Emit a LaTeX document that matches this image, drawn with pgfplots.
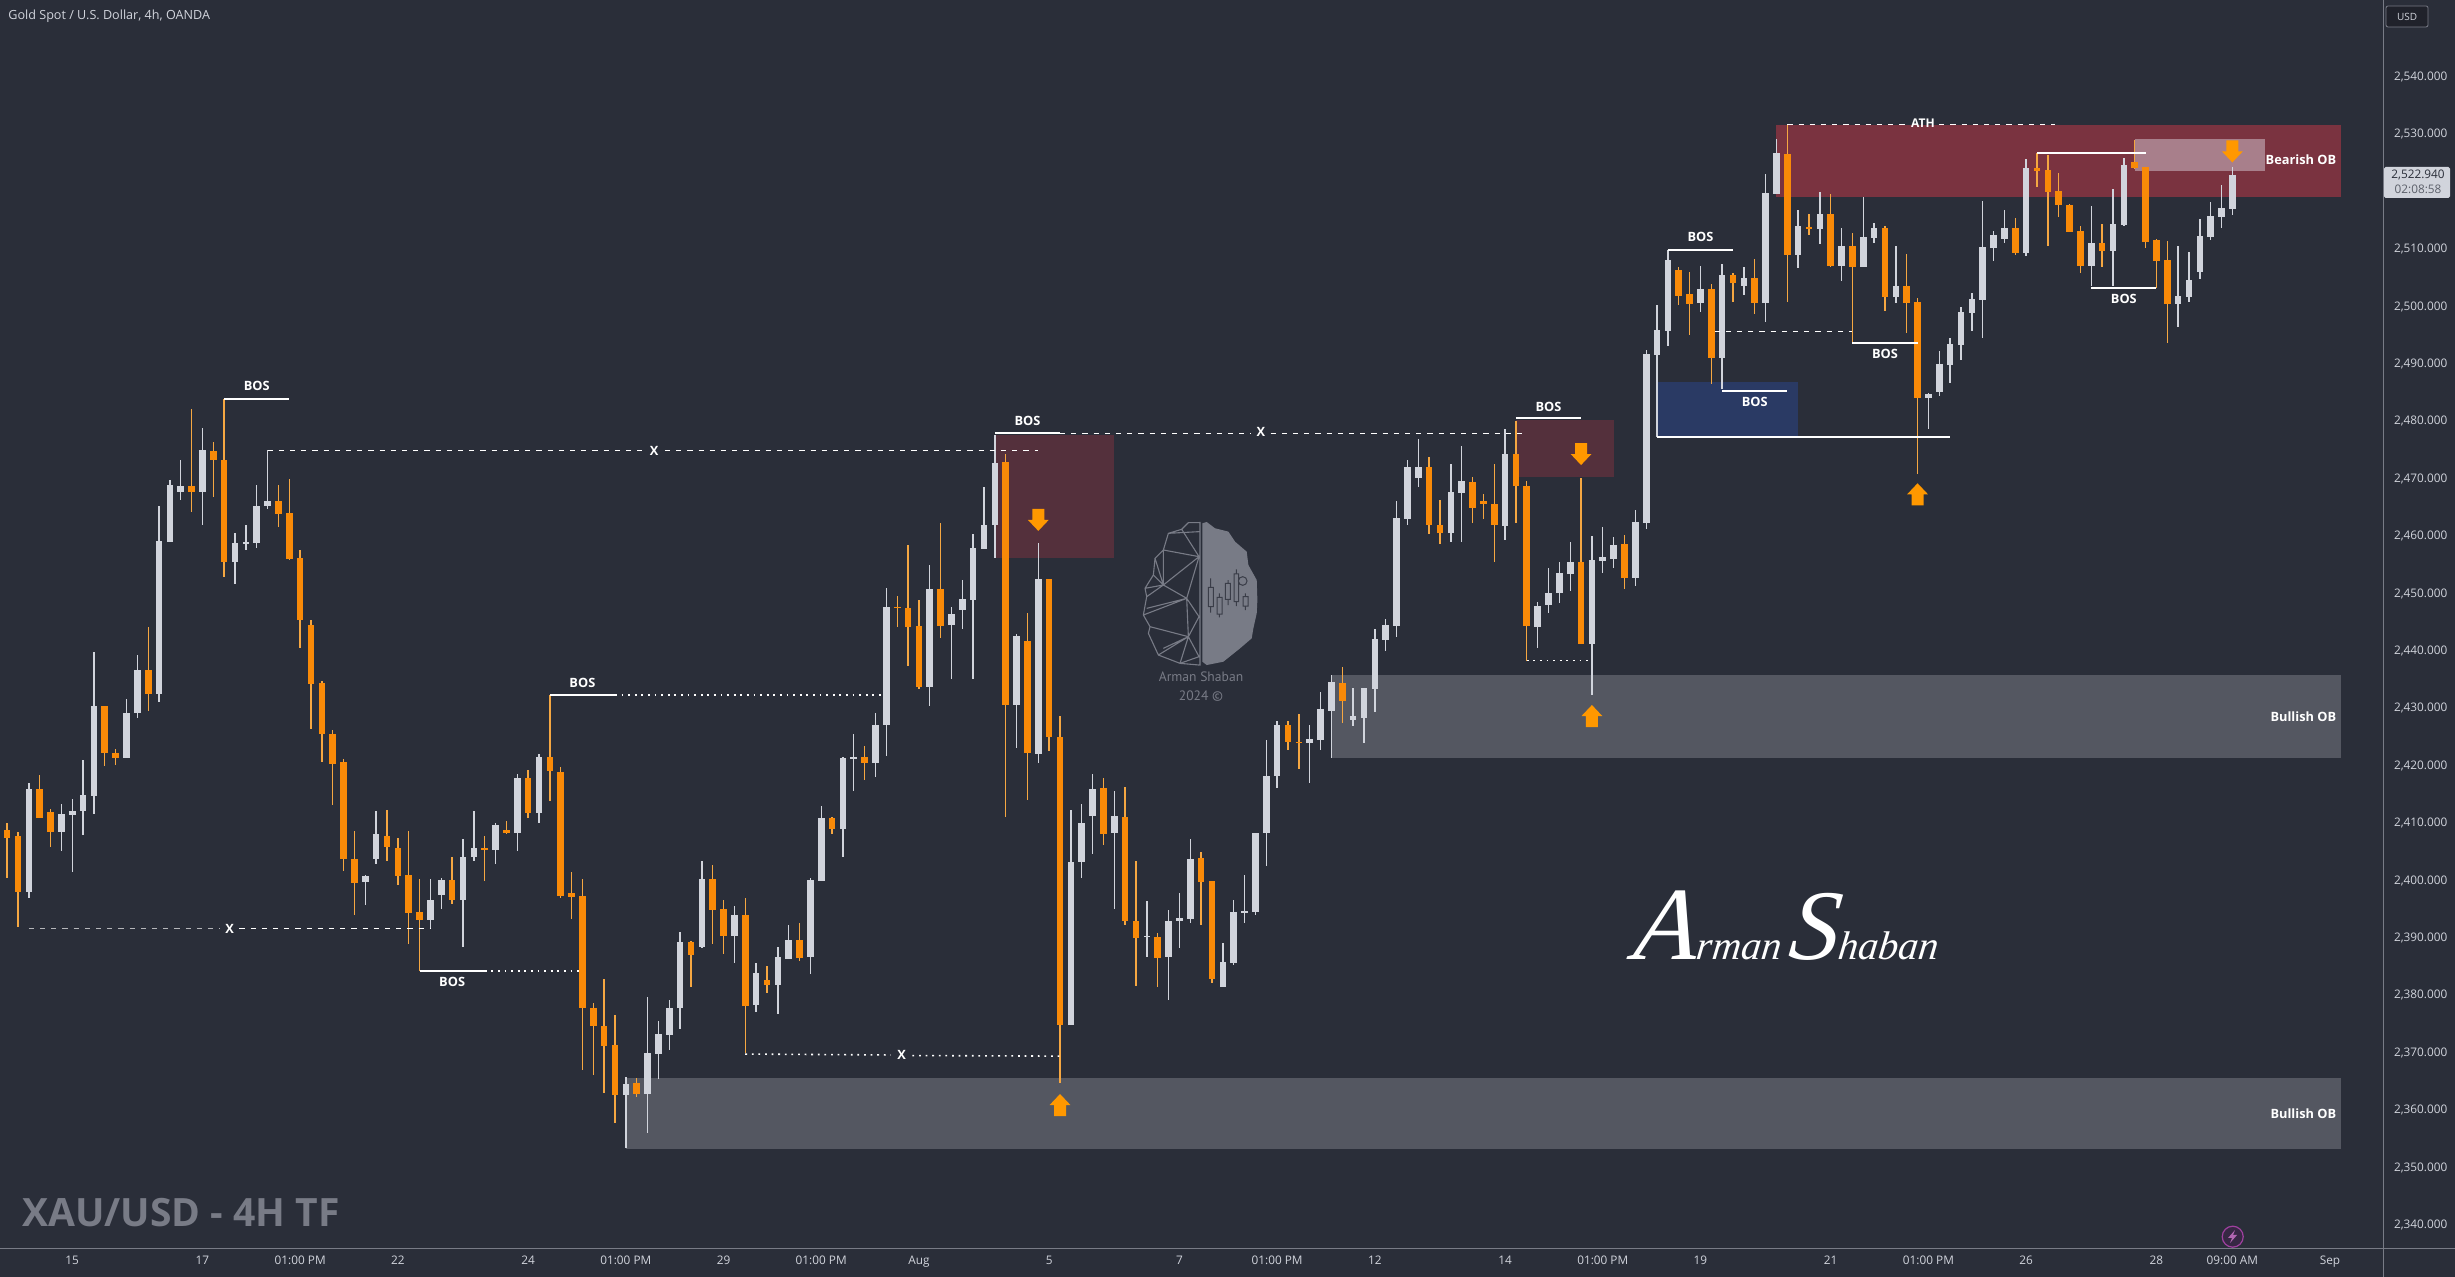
\documentclass[border=0pt]{standalone}
\usepackage{fontspec}
\usepackage{pgfplots}
\usepackage{pgfplotstable}
\pgfplotsset{compat=1.18}
\setmainfont{Open Sans}
\newfontfamily\sigfont{Liberation Serif}
\newfontfamily\logofont{PT Sans}

\definecolor{bg}{HTML}{2A2E39}
\definecolor{axc}{HTML}{787B86}
\definecolor{txt}{HTML}{D1D4DC}
\definecolor{upc}{HTML}{D1D4DC}
\definecolor{dnc}{HTML}{F98A08}
\definecolor{dnw}{HTML}{F5A742}
\definecolor{arr}{HTML}{FF9800}
\definecolor{zgray}{HTML}{545761}
\definecolor{zred}{HTML}{7A3340}
\definecolor{zdark}{HTML}{54303C}
\definecolor{zpink}{HTML}{A87F8B}
\definecolor{zblue}{HTML}{2A3A64}

% x o h l c, white candles
\pgfplotstableread{
x o h l c
2 2398.04 2416.98 2397.01 2415.95
5 2408.51 2413.40 2405.14 2411.61
6 2411.47 2414.16 2401.49 2412.09
7 2412.16 2420.98 2407.89 2414.92
8 2414.78 2439.72 2411.61 2430.42
11 2421.26 2431.59 2421.26 2429.25
12 2429.25 2439.37 2428.35 2436.62
14 2432.55 2465.21 2431.18 2459.08
15 2458.94 2469.69 2458.94 2468.86
16 2467.76 2473.27 2466.31 2468.65
18 2467.76 2478.85 2461.97 2474.99
21 2455.56 2460.52 2451.71 2458.73
22 2458.75 2461.90 2457.49 2458.95
23 2458.87 2468.86 2457.84 2465.21
24 2465.21 2474.92 2464.73 2466.04
33 2399.76 2400.87 2395.70 2400.87
34 2403.76 2412.09 2402.79 2408.03
39 2393.15 2400.25 2391.77 2396.59
40 2397.56 2400.45 2395.08 2400.04
42 2396.66 2407.20 2388.46 2404.17
43 2404.17 2412.09 2403.48 2405.69
45 2405.34 2410.10 2402.93 2409.61
47 2408.31 2418.50 2405.21 2417.95
49 2411.82 2422.01 2410.10 2421.46
57 2362.67 2365.79 2353.38 2364.51
59 2362.80 2379.66 2356.01 2369.88
60 2369.82 2375.51 2365.48 2373.24
61 2373.12 2379.17 2370.49 2377.77
62 2377.71 2390.97 2374.16 2389.32
64 2388.40 2403.37 2388.16 2400.19
67 2390.42 2395.55 2385.65 2394.02
69 2378.32 2385.59 2377.16 2383.88
71 2381.80 2388.34 2376.73 2386.69
72 2386.32 2392.25 2386.32 2389.62
74 2386.69 2400.44 2383.76 2400.07
75 2399.89 2412.91 2399.89 2410.89
77 2408.99 2421.52 2404.11 2421.34
78 2421.16 2425.49 2415.59 2421.52
80 2420.54 2429.10 2418.04 2427.08
81 2427.08 2450.96 2421.70 2447.65
85 2433.77 2454.97 2430.40 2450.79
87 2444.51 2447.59 2435.16 2446.43
88 2447.13 2452.35 2443.82 2449.04
89 2448.87 2460.37 2435.11 2457.93
90 2457.81 2468.54 2457.81 2462.01
91 2462.01 2477.64 2456.10 2472.82
93 2430.52 2442.96 2423.05 2442.57
95 2422.12 2458.75 2420.41 2452.60
98 2374.76 2412.32 2374.76 2403.14
99 2403.14 2413.33 2400.50 2409.98
100 2411.23 2418.54 2404.62 2415.97
102 2408.20 2415.51 2395.05 2411.23
105 2390.15 2396.37 2386.73 2390.39
107 2386.73 2394.82 2379.26 2392.87
108 2392.87 2397.85 2388.21 2393.42
109 2393.26 2407.26 2392.64 2403.84
112 2381.44 2389.14 2381.36 2385.72
113 2385.64 2396.61 2385.33 2394.43
114 2394.43 2400.96 2392.64 2394.66
115 2394.51 2408.20 2394.04 2408.20
116 2408.20 2424.45 2402.60 2418.23
117 2418.23 2427.87 2416.05 2427.17
120 2423.98 2427.17 2416.98 2424.68
121 2424.45 2432.77 2422.82 2429.82
122 2429.50 2435.88 2421.26 2434.56
124 2427.95 2433.55 2426.94 2428.65
125 2428.34 2433.55 2423.98 2433.55
126 2433.39 2443.89 2429.27 2442.10
127 2441.87 2445.53 2439.93 2444.51
128 2444.36 2466.13 2442.34 2463.10
129 2462.95 2473.21 2461.86 2471.97
130 2470.10 2476.94 2468.54 2472.12
133 2460.61 2472.59 2458.98 2467.61
134 2467.53 2475.70 2458.98 2469.56
138 2461.78 2478.58 2459.29 2474.38
141 2444.17 2448.51 2440.57 2447.91
142 2447.97 2454.44 2446.64 2450.17
143 2450.17 2455.51 2448.37 2453.57
144 2453.37 2458.91 2450.51 2455.51
146 2441.17 2460.04 2432.37 2455.77
147 2455.64 2461.51 2453.57 2456.44
148 2456.04 2459.84 2454.51 2458.37
150 2452.77 2464.51 2451.31 2462.38
151 2462.31 2492.43 2461.31 2491.73
152 2491.56 2500.27 2477.33 2495.91
153 2495.74 2509.85 2493.12 2508.11
156 2500.67 2507.06 2499.05 2503.00
158 2491.09 2507.41 2485.69 2505.49
160 2503.63 2506.89 2502.01 2504.97
162 2500.67 2523.09 2497.36 2519.72
163 2519.60 2529.19 2519.60 2526.75
165 2509.04 2516.82 2506.77 2514.03
167 2513.51 2519.89 2510.95 2516.06
169 2507.06 2513.68 2504.45 2510.55
171 2506.94 2519.02 2506.94 2512.11
172 2511.94 2514.55 2511.07 2513.62
174 2501.66 2510.55 2500.67 2503.58
177 2484.12 2484.88 2478.72 2484.76
178 2485.11 2492.25 2484.47 2489.93
179 2489.81 2494.52 2486.74 2493.41
180 2493.30 2499.92 2490.69 2498.99
181 2498.93 2502.36 2495.80 2501.25
182 2501.14 2518.38 2494.58 2510.37
183 2510.20 2513.16 2507.99 2512.46
184 2511.76 2516.82 2511.07 2513.68
186 2509.38 2525.64 2508.86 2524.08
192 2507.12 2517.51 2503.58 2511.01
194 2509.73 2520.48 2503.58 2514.32
195 2514.20 2525.82 2514.09 2524.66
200 2500.50 2510.55 2496.49 2501.78
201 2501.72 2509.44 2500.73 2504.56
202 2506.02 2515.19 2504.85 2512.29
203 2512.17 2518.21 2511.65 2515.71
204 2515.66 2521.17 2513.74 2517.11
205 2516.99 2524.37 2515.95 2522.94
}\upcandles

% x o h l c, orange candles
\pgfplotstableread{
x o h l c
0 2408.72 2410.10 2400.45 2407.48
1 2407.82 2408.37 2391.84 2398.04
3 2415.95 2418.36 2410.92 2410.92
4 2411.96 2412.37 2405.89 2408.51
9 2430.42 2430.42 2420.02 2422.29
10 2422.22 2422.84 2420.09 2421.26
13 2436.62 2444.13 2429.59 2432.55
17 2468.65 2482.22 2464.11 2467.76
19 2474.92 2476.37 2466.79 2473.34
20 2473.34 2483.81 2452.95 2455.56
25 2466.04 2468.86 2461.63 2463.90
26 2463.97 2469.89 2455.91 2456.05
27 2456.11 2457.49 2440.55 2445.30
28 2444.47 2445.30 2426.42 2434.28
29 2434.35 2434.69 2420.71 2425.46
30 2425.46 2426.15 2413.20 2420.36
31 2420.57 2421.12 2401.69 2403.83
32 2403.83 2408.65 2394.05 2399.62
35 2407.82 2412.30 2403.48 2405.76
36 2405.76 2407.34 2399.28 2400.87
37 2400.87 2408.65 2389.02 2394.39
38 2394.46 2400.25 2384.24 2393.15
41 2400.04 2404.03 2395.97 2396.66
44 2405.62 2407.69 2399.83 2405.48
46 2408.72 2410.37 2408.10 2408.31
48 2417.95 2419.19 2410.92 2411.82
50 2421.46 2432.28 2413.89 2419.12
51 2418.98 2419.74 2397.01 2397.28
52 2397.90 2401.49 2393.36 2397.21
53 2397.26 2400.19 2367.07 2377.71
54 2377.71 2378.74 2366.09 2374.71
55 2374.59 2382.84 2362.98 2371.23
56 2371.29 2376.54 2357.78 2362.67
58 2364.69 2365.61 2362.24 2362.86
63 2389.38 2389.38 2381.43 2387.06
65 2400.19 2402.64 2388.95 2394.94
66 2395.00 2396.59 2387.24 2390.42
68 2393.96 2396.96 2369.88 2378.19
70 2382.59 2385.04 2380.46 2381.80
73 2389.62 2392.62 2385.96 2386.57
76 2410.89 2411.13 2408.08 2408.99
79 2421.46 2423.35 2417.49 2420.54
82 2447.70 2449.57 2444.17 2447.50
83 2447.42 2458.45 2437.37 2444.17
84 2444.28 2448.87 2433.42 2433.77
86 2450.79 2462.34 2442.31 2444.34
92 2472.98 2474.38 2411.00 2430.52
94 2441.79 2446.54 2413.95 2422.27
96 2452.60 2452.60 2422.51 2425.07
97 2425.07 2428.73 2364.72 2374.76
101 2416.05 2417.84 2406.10 2408.04
103 2411.15 2416.36 2392.17 2393.03
104 2393.03 2403.37 2381.68 2390.08
106 2390.23 2390.78 2381.36 2386.58
110 2404.00 2404.93 2392.17 2399.80
111 2399.87 2399.87 2382.14 2382.92
118 2427.17 2427.72 2422.82 2424.06
119 2424.14 2429.04 2419.47 2423.98
123 2434.48 2437.20 2427.48 2431.22
131 2472.12 2473.76 2460.30 2462.01
132 2462.01 2466.29 2458.59 2460.61
135 2469.48 2470.33 2462.32 2464.97
136 2466.21 2467.30 2462.95 2465.67
137 2465.51 2472.59 2455.40 2461.86
139 2474.38 2479.98 2462.32 2468.78
140 2468.78 2469.56 2438.29 2444.28
145 2455.44 2470.04 2441.17 2441.17
149 2458.58 2460.18 2450.84 2452.77
154 2506.36 2506.83 2500.33 2501.89
155 2502.13 2506.02 2495.04 2500.50
157 2503.00 2503.93 2486.56 2491.09
159 2505.49 2505.78 2500.79 2504.16
161 2504.91 2508.28 2498.76 2500.67
164 2526.51 2531.74 2500.85 2509.04
166 2513.80 2516.12 2512.52 2513.45
168 2516.06 2519.60 2506.94 2507.12
170 2510.55 2512.75 2493.70 2506.94
173 2513.68 2514.03 2499.28 2501.72
175 2503.58 2509.15 2495.33 2500.67
176 2500.73 2501.43 2470.88 2484.12
185 2513.62 2515.42 2509.04 2509.38
187 2524.08 2526.69 2520.82 2523.67
188 2523.73 2526.40 2510.60 2520.01
189 2520.07 2523.20 2515.66 2517.75
190 2517.63 2517.80 2513.04 2513.04
191 2513.10 2514.03 2505.90 2507.12
193 2511.01 2514.32 2506.94 2509.73
196 2525.12 2529.01 2523.90 2524.13
197 2524.25 2524.37 2510.25 2511.30
198 2511.53 2511.71 2503.23 2507.99
199 2508.05 2511.42 2493.70 2500.50
}\downcandles

\newcommand{\wicks}[2]{\addplot[draw=none,mark=none,error bars/.cd,y dir=both,y explicit,error mark=none,
  error bar style={draw=#2,line width=0.7pt,solid}] table[x=x,y=c,y error plus expr=\thisrow{h}-\thisrow{c},y error minus expr=\thisrow{c}-\thisrow{l}] {#1};}
\newcommand{\bodies}[2]{\addplot[draw=none,mark=none,error bars/.cd,y dir=both,y explicit,error mark=none,
  error bar style={draw=#2,line width=3.3pt,solid}] table[x=x,y expr=(\thisrow{o}+\thisrow{c})/2,y error expr=abs(\thisrow{o}-\thisrow{c})/2] {#1};}

% block arrows, tip at the given point
\newcommand{\arrdown}[2]{\fill[arr] (axis cs:#1,#2) -- ++(-5.2pt,5.5pt) -- ++(2.2pt,0pt) -- ++(0pt,5.5pt) -- ++(6pt,0pt) -- ++(0pt,-5.5pt) -- ++(2.2pt,0pt) -- cycle;}
\newcommand{\arrup}[2]{\fill[arr] (axis cs:#1,#2) -- ++(-5.2pt,-5.5pt) -- ++(2.2pt,0pt) -- ++(0pt,-5.5pt) -- ++(6pt,0pt) -- ++(0pt,5.5pt) -- ++(2.2pt,0pt) -- cycle;}
\newcommand{\lab}[4][BOS]{\node[text=white,font=\fontsize{#4}{8}\selectfont\bfseries,inner sep=0pt] at (axis cs:#2,#3) {#1};}

\begin{document}
\begin{tikzpicture}
\fill[bg] (0,0) rectangle (1227.5pt,638.5pt);
\useasboundingbox (0,0) rectangle (1227.5pt,638.5pt);
\begin{axis}[
  at={(0pt,14pt)},anchor=south west,
  scale only axis,width=1191.5pt,height=624.5pt,
  xmin=-0.654,xmax=218.88,ymin=2335.8,ymax=2553.4,
  axis x line*=bottom,axis y line*=right,
  axis line style={draw=axc,line width=0.5pt,-},
  major tick length=0pt,
  ytick={2340,2350,2360,2370,2380,2390,2400,2410,2420,2430,2440,2450,2460,2470,2480,2490,2500,2510,2520,2530,2540},
  xtick={6,18,27,36,48,57,66,75,84,96,108,117,126,138,147,156,168,177,186,198,205,214},
  xticklabels={15,17,01:00 PM,22,24,01:00 PM,29,01:00 PM,Aug,5,7,01:00 PM,12,14,01:00 PM,19,21,01:00 PM,26,28,09:00 AM,Sep},
  tick label style={font=\fontsize{5.9}{7}\selectfont,text=txt},
  xticklabel style={yshift=0.2pt},
  yticklabel style={xshift=2pt},
  /pgf/number format/.cd,assume math mode=true,fixed,fixed zerofill,precision=3,1000 sep={,},
]
% zones
\fill[zgray] (axis cs:57,2365.61) rectangle (axis cs:215,2353.26);
\fill[zgray] (axis cs:122,2435.88) rectangle (axis cs:215,2421.26);
\fill[zred] (axis cs:163,2531.62) rectangle (axis cs:215,2519.08);
\fill[zpink] (axis cs:196,2529.19) rectangle (axis cs:208,2523.61);
\fill[zdark] (axis cs:91,2477.64) rectangle (axis cs:102,2456.26);
\fill[zdark] (axis cs:139,2480.24) rectangle (axis cs:148,2470.38);
\fill[zblue] (axis cs:152,2486.85) rectangle (axis cs:165,2477.45);

% candles
\wicks{\upcandles}{upc}
\wicks{\downcandles}{dnw}
\bodies{\upcandles}{upc}
\bodies{\downcandles}{dnc}

% structure lines
\tikzset{solidl/.style={white,line width=0.9pt},
  dashl/.style={white,line width=0.5pt,dash pattern=on 2.6pt off 3pt},
  dotl/.style={white,line width=0.8pt,dash pattern=on 0.9pt off 2.4pt}}
\draw[solidl] (axis cs:20,2483.95) -- (axis cs:26,2483.95);
\draw[dashl] (axis cs:24,2474.92) -- (axis cs:58.7,2474.92) (axis cs:60.6,2474.92) -- (axis cs:95,2474.92);
\draw[dashl,white!65!bg] (axis cs:2,2391.56) -- (axis cs:19.6,2391.56);
\draw[dashl] (axis cs:21.4,2391.56) -- (axis cs:39,2391.56);
\draw[solidl] (axis cs:50,2432.35) -- (axis cs:56,2432.35);
\draw[dotl] (axis cs:56,2432.35) -- (axis cs:80.6,2432.35);
\draw[solidl] (axis cs:38,2384.24) -- (axis cs:44,2384.24);
\draw[dotl] (axis cs:44,2384.24) -- (axis cs:53,2384.24);
\draw[dotl] (axis cs:68,2369.76) -- (axis cs:81.4,2369.6) (axis cs:83.4,2369.5) -- (axis cs:97,2369.4);
\draw[solidl] (axis cs:91,2477.95) -- (axis cs:97,2477.95);
\draw[dashl] (axis cs:97,2477.95) -- (axis cs:114.6,2477.95) (axis cs:116.4,2477.95) -- (axis cs:140,2477.95);
\draw[solidl] (axis cs:139,2480.51) -- (axis cs:145,2480.51);
\draw[dotl] (axis cs:140,2438.3) -- (axis cs:146,2438.3);
\draw[solidl] (axis cs:153,2509.85) -- (axis cs:159,2509.85);
\draw[dashl] (axis cs:157.3,2495.68) -- (axis cs:170,2495.68);
\draw[solidl] (axis cs:158,2485.28) -- (axis cs:164,2485.28);
\draw[solidl] (axis cs:152,2477.27) -- (axis cs:179,2477.27);
\draw[solidl] (axis cs:170,2493.65) -- (axis cs:176,2493.65);
\draw[dashl] (axis cs:164,2531.74) -- (axis cs:175,2531.74) (axis cs:178,2531.74) -- (axis cs:188.7,2531.74);
\draw[solidl] (axis cs:187,2526.8) -- (axis cs:197,2526.8);
\draw[solidl] (axis cs:192,2503.29) -- (axis cs:198,2503.29);

% labels
\lab{23}{2486.1}{6.4}
\lab{53}{2434.35}{6.4}
\lab{41}{2382.3}{6.4}
\lab{94}{2480.05}{6.4}
\lab{142}{2482.5}{6.4}
\lab{156}{2512.1}{6.4}
\lab{161}{2483.3}{6.4}
\lab{173}{2491.7}{6.4}
\lab{195}{2501.3}{6.4}
\lab[X]{59.6}{2474.92}{6.4}
\lab[X]{20.5}{2391.6}{6.4}
\lab[X]{82.4}{2369.6}{6.4}
\lab[X]{115.5}{2478.1}{6.4}
\lab[ATH]{176.5}{2532}{6}
\node[text=white,font=\fontsize{6.4}{8}\selectfont\bfseries,anchor=east,inner sep=0pt] at (axis cs:214.6,2525.5) {Bearish OB};
\node[text=white,font=\fontsize{6.4}{8}\selectfont\bfseries,anchor=east,inner sep=0pt] at (axis cs:214.6,2428.5) {Bullish OB};
\node[text=white,font=\fontsize{6.4}{8}\selectfont\bfseries,anchor=east,inner sep=0pt] at (axis cs:214.6,2359.4) {Bullish OB};

% arrows
\arrdown{95}{2460.9}
\arrdown{145}{2472.38}
\arrdown{205}{2525.1}
\arrup{97}{2362.8}
\arrup{146}{2430.57}
\arrup{176}{2469.2}
\end{axis}

% everything below is placed in image pixels
\begin{scope}[x=0.5pt,y=-0.5pt,shift={(0pt,638.5pt)}]
\draw[axc,line width=0.5pt] (2383,1249) -- (2455,1249) (2383,1249) -- (2383,1277);
\node[anchor=west,inner sep=0pt,text=txt,font=\fontsize{6.3}{8}\selectfont] at (8,16) {Gold Spot / U.S. Dollar, 4h, OANDA};
\node[anchor=west,inner sep=0pt,text=axc,font=\fontsize{19.5}{22}\selectfont\bfseries] at (22,1213) {XAU/USD - 4H TF};
% price tag
\fill[txt,rounded corners=0.8pt] (2384,167) rectangle (2450,198);
\node[inner sep=0pt,text=bg,font=\fontsize{5.9}{7}\selectfont] at (2418,175) {2,522.940};
\node[inner sep=0pt,text=bg!70!txt,font=\fontsize{5.9}{7}\selectfont] at (2418,189) {02:08:58};
% currency box
\draw[axc,fill=bg!75!black,line width=0.4pt,rounded corners=1pt] (2386,6) rectangle (2428,27);
\node[inner sep=0pt,text=txt,font=\fontsize{5}{6}\selectfont] at (2407,17) {USD};
% lightning icon
\draw[violet!75!white,line width=0.6pt,fill=violet!15!bg] (2232.7,1236.7) circle (10.5);
\fill[violet!60!white] (2235,1230) -- (2228,1238) -- (2232,1238) -- (2230,1243) -- (2237,1235) -- (2233,1235) -- cycle;
% signature
\node[anchor=base west,inner sep=0pt,text=white,xslant=0.12,font=\sigfont\itshape] at (1632,960) {\fontsize{52}{54}\selectfont A\fontsize{20}{22}\selectfont rman\,\fontsize{50}{52}\selectfont S\fontsize{20}{22}\selectfont haban};
% logo, right half
\begin{scope}[shift={(1100,500)},x=0.1667pt,y=-0.1667pt]
\fill[axc] (307,70) -- (320,66) -- (345,85) -- (385,95) -- (405,125) -- (440,155) -- (445,195) -- (470,240) -- (472,300) -- (470,340) -- (460,385) -- (455,415) -- (420,445) -- (395,465) -- (370,485) -- (320,495) -- (307,485) -- cycle;
\draw[bg!80!axc,line width=0.5pt] (325,262) rectangle (340,320) (332,235) -- (332,262) (332,320) -- (332,338)
  (351,292) rectangle (366,342) (358,280) -- (358,292) (358,342) -- (358,352)
  (376,250) rectangle (391,298) (384,240) -- (384,250) (384,298) -- (384,315)
  (402,222) rectangle (416,305) (409,208) -- (409,222) (409,305) -- (409,318)
  (429,290) rectangle (444,318) (436,280) -- (436,290) (436,318) -- (436,330)
  (428,243) circle (13);
\draw[axc,line width=0.55pt,line join=round] (300,66) -- (300,497)
  (297,68) -- (265,68) -- (245,88) -- (205,100) -- (190,150) -- (165,175) -- (160,225) -- (135,265) -- (140,290) -- (130,345) -- (150,380) -- (145,400) -- (175,465) -- (240,490) -- (297,495)
  (190,150) -- (297,170) (190,150) -- (190,255) (190,255) -- (297,170) (190,255) -- (260,295)
  (135,265) -- (190,255) (140,290) -- (190,255) (130,345) -- (260,295) (140,325) -- (260,295)
  (260,295) -- (297,170) (260,295) -- (297,350) (260,295) -- (265,410) (297,350) -- (265,410)
  (150,380) -- (265,410) (175,465) -- (265,410) (240,490) -- (265,410) (297,470) -- (265,410)
  (245,88) -- (297,170) (205,100) -- (297,95) (160,225) -- (190,255) (165,175) -- (190,255)
  (190,445) -- (265,410) (240,490) -- (297,470);
\end{scope}
\node[inner sep=0pt,text=axc,font=\logofont\fontsize{6.8}{8}\selectfont] at (1201,677) {Arman Shaban};
\node[inner sep=0pt,text=axc,font=\logofont\fontsize{6.8}{8}\selectfont] at (1201,696) {2024 ©};
\end{scope}
\end{tikzpicture}
\end{document}
